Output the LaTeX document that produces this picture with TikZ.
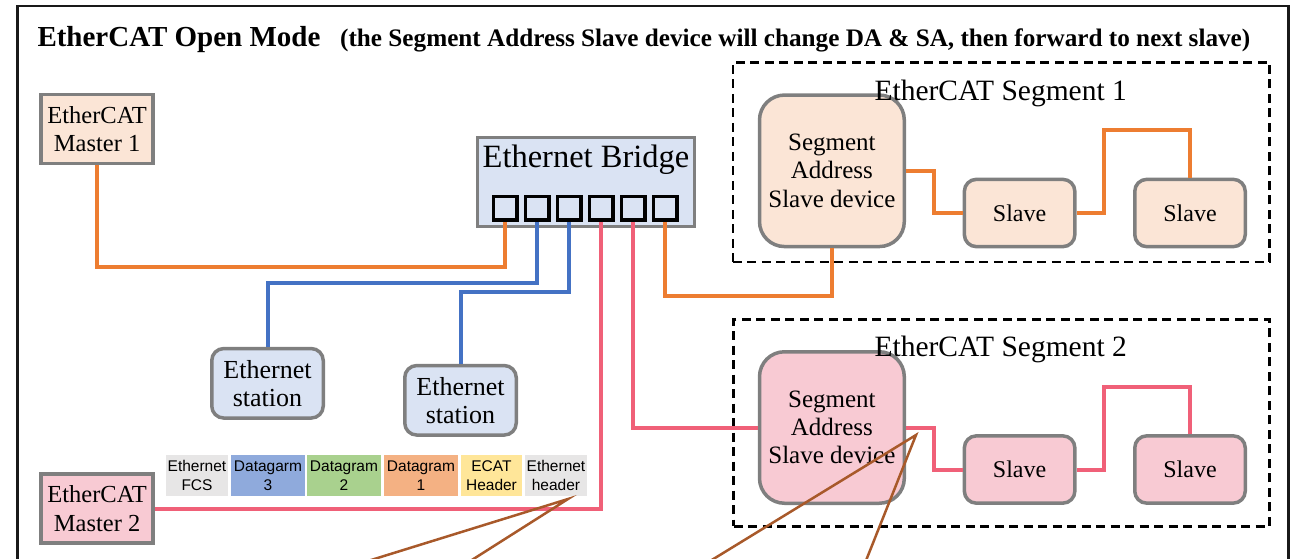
\documentclass[tikz,border=0pt]{standalone}
\usepackage{fontspec}
\setmainfont{Liberation Serif}
\newfontfamily\pktfont{Liberation Sans}
\definecolor{boxgray}{HTML}{7F7F7F}
\definecolor{peach}{HTML}{FBE5D6}
\definecolor{pinkfill}{HTML}{F8CAD3}
\definecolor{ltblue}{HTML}{DAE3F3}
\definecolor{lnorange}{HTML}{ED7D31}
\definecolor{lnblue}{HTML}{4472C4}
\definecolor{lnpink}{HTML}{F06078}
\definecolor{lnbrown}{HTML}{A8592A}
\definecolor{pgray}{HTML}{E7E6E6}
\definecolor{pblue}{HTML}{8FAADC}
\definecolor{pgreen}{HTML}{A9D18E}
\definecolor{porange}{HTML}{F4B183}
\definecolor{pyellow}{HTML}{FFE699}
\newcommand\fsz[2]{\fontsize{#1}{#2}\selectfont}
\begin{document}
\begin{tikzpicture}[x=1pt,y=-1pt,
  box/.style={draw=boxgray, line width=3.5pt, align=center, inner sep=0pt},
  mbox/.style={box, minimum width=112, minimum height=68.8, font=\fsz{24.5}{28.5}},
  stbox/.style={box, fill=ltblue, rounded corners=12pt, minimum width=111.5, minimum height=69.5, font=\fsz{26}{28}},
  sabox/.style={box, rounded corners=25pt, minimum width=144.8, minimum height=151.5, font=\fsz{25}{28.3}},
  slbox/.style={box, rounded corners=12pt, minimum width=110.5, minimum height=67.3, font=\fsz{24}{28}},
  port/.style={draw=black, line width=3.5pt, minimum size=23.5, inner sep=0pt},
  segbox/.style={draw=black, line width=2.5pt, dash pattern=on 9pt off 5.5pt, inner sep=0pt},
  seglabel/.style={anchor=base, inner sep=0pt, font=\fsz{29.5}{34}},
  pkt/.style={inner sep=0pt, minimum height=41, align=center, font=\pktfont\fsz{15.5}{19}},
  conn/.style={line width=4pt},
  cOr/.style={conn, draw=lnorange},
  cBl/.style={conn, draw=lnblue},
  cPk/.style={conn, draw=lnpink},
  cBr/.style={line width=2.5pt, draw=lnbrown}
]
\useasboundingbox (0,0) rectangle (1291,558);
\clip (0,0) rectangle (1291,558);

% outer frame
\draw[line width=2.5pt, draw=black!90] (17.4,620) -- (17.4,6) -- (1288.6,6) -- (1288.6,620);

% title
\node[anchor=base west, inner sep=0pt, font=\bfseries\fsz{29}{34}] (title) at (37.3,46) {EtherCAT Open Mode};
\node[anchor=base west, inner sep=0pt, font=\bfseries\fsz{25.2}{30}] (sub) at (340,46) {(the Segment Address Slave device will change DA \& SA, then forward to next slave)};

% segment containers
\node[segbox, minimum width=536.8, minimum height=199.8] (seg1) at (1001.2,162.2) {};
\node[segbox, minimum width=536, minimum height=206.9] (seg2) at (1001.5,423) {};

% masters
\node[mbox, fill=peach] (m1) at (97.1,128.9) {EtherCAT\\Master 1};
\node[mbox, fill=pinkfill] (m2) at (97.1,508.5) {EtherCAT\\Master 2};

% bridge
\node[box, fill=ltblue, minimum width=216.8, minimum height=89.1] (br) at (585.9,182) {};
\node[anchor=base, inner sep=0pt, font=\fsz{32.5}{35}] (brt) at (586,167) {Ethernet Bridge};
\node[port] (p1) at (505,208.3) {};
\node[port] (p2) at (537,208.3) {};
\node[port] (p3) at (569,208.3) {};
\node[port] (p4) at (601,208.3) {};
\node[port] (p5) at (633,208.3) {};
\node[port] (p6) at (665,208.3) {};

% stations
\node[stbox] (s1) at (267.5,383.3) {Ethernet\\station};
\node[stbox] (s2) at (460.5,400.3) {Ethernet\\station};

% segment devices
\node[sabox, fill=peach] (sa1) at (831.9,170.8) {Segment\\Address\\Slave device};
\node[slbox, fill=peach] (sl1a) at (1019.6,213) {Slave};
\node[slbox, fill=peach] (sl1b) at (1190,213) {Slave};
\node[sabox, fill=pinkfill] (sa2) at (831.9,427.5) {Segment\\Address\\Slave device};
\node[slbox, fill=pinkfill] (sl2a) at (1019.6,469.5) {Slave};
\node[slbox, fill=pinkfill] (sl2b) at (1190,469.5) {Slave};

\node[seglabel] (seg1t) at (1000.7,100) {EtherCAT Segment 1};
\node[seglabel] (seg2t) at (1000.7,356) {EtherCAT Segment 2};

% level coordinates
\coordinate (lvA) at (0,266.7);
\coordinate (lvB) at (0,283.3);
\coordinate (lvC) at (0,292.3);
\coordinate (lvD) at (0,295.7);
\coordinate (lvE) at (0,130);
\coordinate (lvF) at (0,386.7);

% connectors
\draw[cOr] (m1.south) |- (p1.south |- lvA) -- (p1.south);
\draw[cBl] (p2.south) |- (s1.north |- lvB) -- (s1.north);
\draw[cBl] (p3.south) |- (s2.north |- lvC) -- (s2.north);
\draw[cPk] (p4.south) |- (m2.east);
\draw[cPk] (p5.south) |- (sa2.west);
\draw[cOr] (p6.south) |- (sa1.south |- lvD) -- (sa1.south);
\draw[cOr] (sa1.east) -- ++(28.4,0) |- (sl1a.west);
\draw[cOr] (sl1a.east) -- ++(27.8,0) |- (sl1b.north |- lvE) -- (sl1b.north);
\draw[cPk] (sa2.east) -- ++(28.4,0) |- (sl2a.west);
\draw[cPk] (sl2a.east) -- ++(27.8,0) |- (sl2b.north |- lvF) -- (sl2b.north);

% packet
\node[pkt, fill=pgray, minimum width=62] (f1) at (197,475.5) {Ethernet\\FCS};
\node[pkt, fill=pblue, minimum width=74] (f2) at (268,475.5) {Datagarm\\3};
\node[pkt, fill=pgreen, minimum width=74] (f3) at (344,475.5) {Datagram\\2};
\node[pkt, fill=porange, minimum width=74] (f4) at (421,475.5) {Datagram\\1};
\node[pkt, fill=pyellow, minimum width=61] (f5) at (491.5,475.5) {ECAT\\Header};
\node[pkt, fill=pgray, minimum width=62] (f6) at (556,475.5) {Ethernet\\header};

% callout lines
\coordinate (ap1) at (568,499);
\coordinate (ex1) at (242,600);
\coordinate (ex2) at (408.8,600);
\coordinate (ap2) at (916,435);
\coordinate (ex3) at (646.4,600);
\coordinate (ex4) at (850.3,600);
\draw[cBr] (ex1) -- (ap1) -- (ex2);
\draw[cBr] (ex3) -- (ap2) -- (ex4);
\end{tikzpicture}
\end{document}
